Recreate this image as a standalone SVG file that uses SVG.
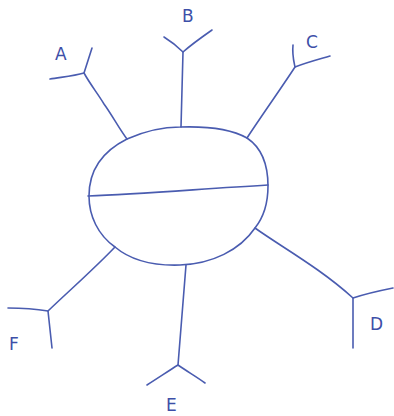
<svg xmlns="http://www.w3.org/2000/svg" width="394" height="416" viewBox="0 0 394 416">
<style>
.s{fill:none;stroke:#4a5cb0;stroke-width:1.6;stroke-linecap:round;stroke-linejoin:round}
.t{font-family:"DejaVu Sans",sans-serif;font-size:17px;fill:#3d4fa8}
</style>
<rect width="394" height="416" fill="#fff"/>
<g id="center">
<path class="s" d="M89,196 C89,168 105,150 127,139 C145,131 162,127 180,127 C210,126 233,130 247,138 C262,148 268,165 268,186 C268,205 263,218 255,228 C240,250 212,264 180,265 C150,266 128,258 115,247 C98,235 89,216 89,196 Z"/>
<path class="s" d="M88,196 C140,194 200,189 268,185"/>
</g>
<g id="connectors">
<path class="s" d="M127,139 C120,130 112,115 104,104 C98,94 90,84 84,73"/>
<path class="s" d="M181,127 L183,52"/>
<path class="s" d="M247,138 C262,115 280,90 295,67"/>
<path class="s" d="M255,228 C280,246 320,268 353,298"/>
<path class="s" d="M186,265 L178,365"/>
<path class="s" d="M115,247 C95,268 70,290 48,311"/>
</g>
<g id="A">
<path class="s" d="M50,79 C62,77 74,76 84,73 L92,48"/>
<text class="t" x="55" y="60">A</text>
</g>
<g id="B">
<path class="s" d="M164,37 C172,42 178,47 183,52 C192,44 202,37 212,30"/>
<text class="t" x="182" y="22">B</text>
</g>
<g id="C">
<path class="s" d="M293,45 C292,55 294,62 295,67 C308,62 320,59 330,56"/>
<text class="t" x="306" y="48">C</text>
</g>
<g id="D">
<path class="s" d="M393,288 C378,291 365,294 353,298 L353,348"/>
<text class="t" x="370" y="330">D</text>
</g>
<g id="E">
<path class="s" d="M147,385 C158,378 170,370 178,365 C188,372 197,377 205,383"/>
<text class="t" x="166" y="411">E</text>
</g>
<g id="F">
<path class="s" d="M8,308 C22,308 36,309 48,311 L52,348"/>
<text class="t" x="9" y="350">F</text>
</g>
</svg>
